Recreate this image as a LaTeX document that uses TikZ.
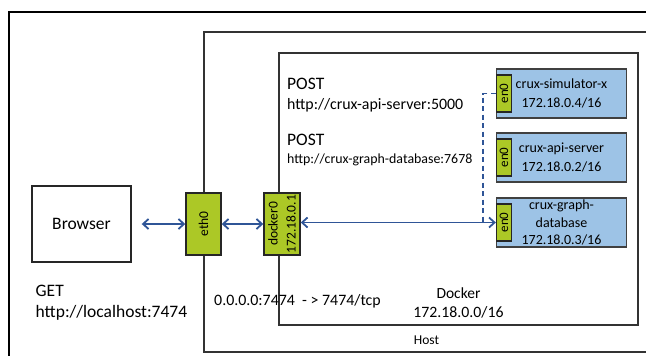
\documentclass[tikz,border=0pt]{standalone}
\usepackage{fontspec}
\setmainfont{Carlito}
\usetikzlibrary{arrows.meta}
\definecolor{iface}{RGB}{172,200,38}
\definecolor{ctr}{RGB}{157,195,230}
\definecolor{link}{RGB}{47,85,151}
\newcommand{\fs}[1]{\fontsize{#1pt}{1.2\dimexpr#1pt\relax}\selectfont}
\newcommand{\drawEnO}[2]{\node[tab] (#1) at (504,#2) {en0}}

\begin{document}
\begin{tikzpicture}[x=1pt,y=-1pt,
		frame/.style={draw=black!80,line width=1.7pt},
		nic/.style={draw=black!85,fill=iface,line width=1.4pt,rotate=90,inner sep=0pt,font=\fs{13.5},align=center},
		tab/.style={draw=black!85,fill=iface,line width=1.3pt,rotate=90,inner sep=0pt,minimum width=37pt,minimum height=15pt,font=\fs{13}},
		ctrbox/.style={draw=black!75,fill=ctr,line width=1.6pt,inner sep=0pt,minimum width=130pt,minimum height=49pt,font=\fs{14},align=center},
		lbl/.style={inner sep=0pt,anchor=west},
		link/.style={draw=link,line width=1.8pt,{Straight Barb[length=5.5pt,width=10pt]}-{Straight Barb[length=5.5pt,width=10pt]}}]
	\useasboundingbox (0,0) rectangle (646,356);
		\begin{scope}
			% frames
			\draw[line width=2.6pt] (9,362) -- (9,12) -- (652,12);
			\draw[frame] (652,352) -- (204,352) -- (204,32) -- (652,32);
			\draw[frame] (279,53) rectangle (638,325);
		
			\node[draw=black!85,line width=1.4pt,minimum width=99pt,minimum height=76pt,font=\fs{17.5}] (browser) at (81.5,224) {Browser};
			\node[nic,minimum width=62pt,minimum height=35pt] (eth0) at (203.5,224) {eth0};
			\node[nic,minimum width=62pt,minimum height=36pt,font={\fontsize{13.5pt}{18pt}\selectfont}] (docker0) at (282,224) {docker0\\172.18.0.1};
		
			\node[ctrbox] (sim) at (561.5,93.5) {crux-simulator-x\\[2pt]172.18.0.4/16};
			\node[ctrbox] (api) at (561.5,157.5) {crux-api-server\\[2pt]172.18.0.2/16};
			\node[ctrbox] (graph) at (561.5,222.5) {crux-graph-\\[1pt]database\\[1pt]172.18.0.3/16};
			\drawEnO{en1}{93.5};
			\drawEnO{en2}{157.5};
			\drawEnO{en3}{222.5};
			\coordinate (tap) at (483,222.5);
		\end{scope}
		\begin{scope}
			% labels
			\node[lbl,font=\fs{17.5}] (post1) at (287,84) {POST};
			\node[lbl,font=\fs{15.9}] (url1) at (287,105) {http://crux-api-server:5000};
			\node[lbl,font=\fs{17.5}] (post2) at (287,140) {POST};
			\node[lbl,font=\fs{13.9}] (url2) at (287,160) {http://crux-graph-database:7678};
			\node[lbl,font=\fs{17.5}] (get) at (35.5,290.5) {GET};
			\node[lbl,font=\fs{17.5}] (local) at (35.5,312.5) {http://localhost:7474};
			\node[lbl,font=\fs{15.9}] (ports) at (214,301.5) {0.0.0.0:7474\ \ - > 7474/tcp};
			\node[inner sep=0pt,font=\fs{15.5}] (dlbl) at (458.5,293) {Docker};
			\node[inner sep=0pt,font=\fs{15.8}] (dnet) at (458.5,312.5) {172.18.0.0/16};
			\node[inner sep=0pt,font=\fs{13.5}] (host) at (426.5,340) {Host};
		\end{scope}
		\begin{scope}
			% links
			\draw[link,shorten <=10pt] (browser.east) -- (eth0.north);
			\draw[link] (eth0.south) -- (docker0.north);
			\draw[link] (docker0.south |- en3.north) -- (en3.north);
			\draw[link,dash pattern=on 5pt off 3.5pt,line width=1.6pt,-] (en1.north) -| (tap);
		\end{scope}
	\end{tikzpicture}
\end{document}
